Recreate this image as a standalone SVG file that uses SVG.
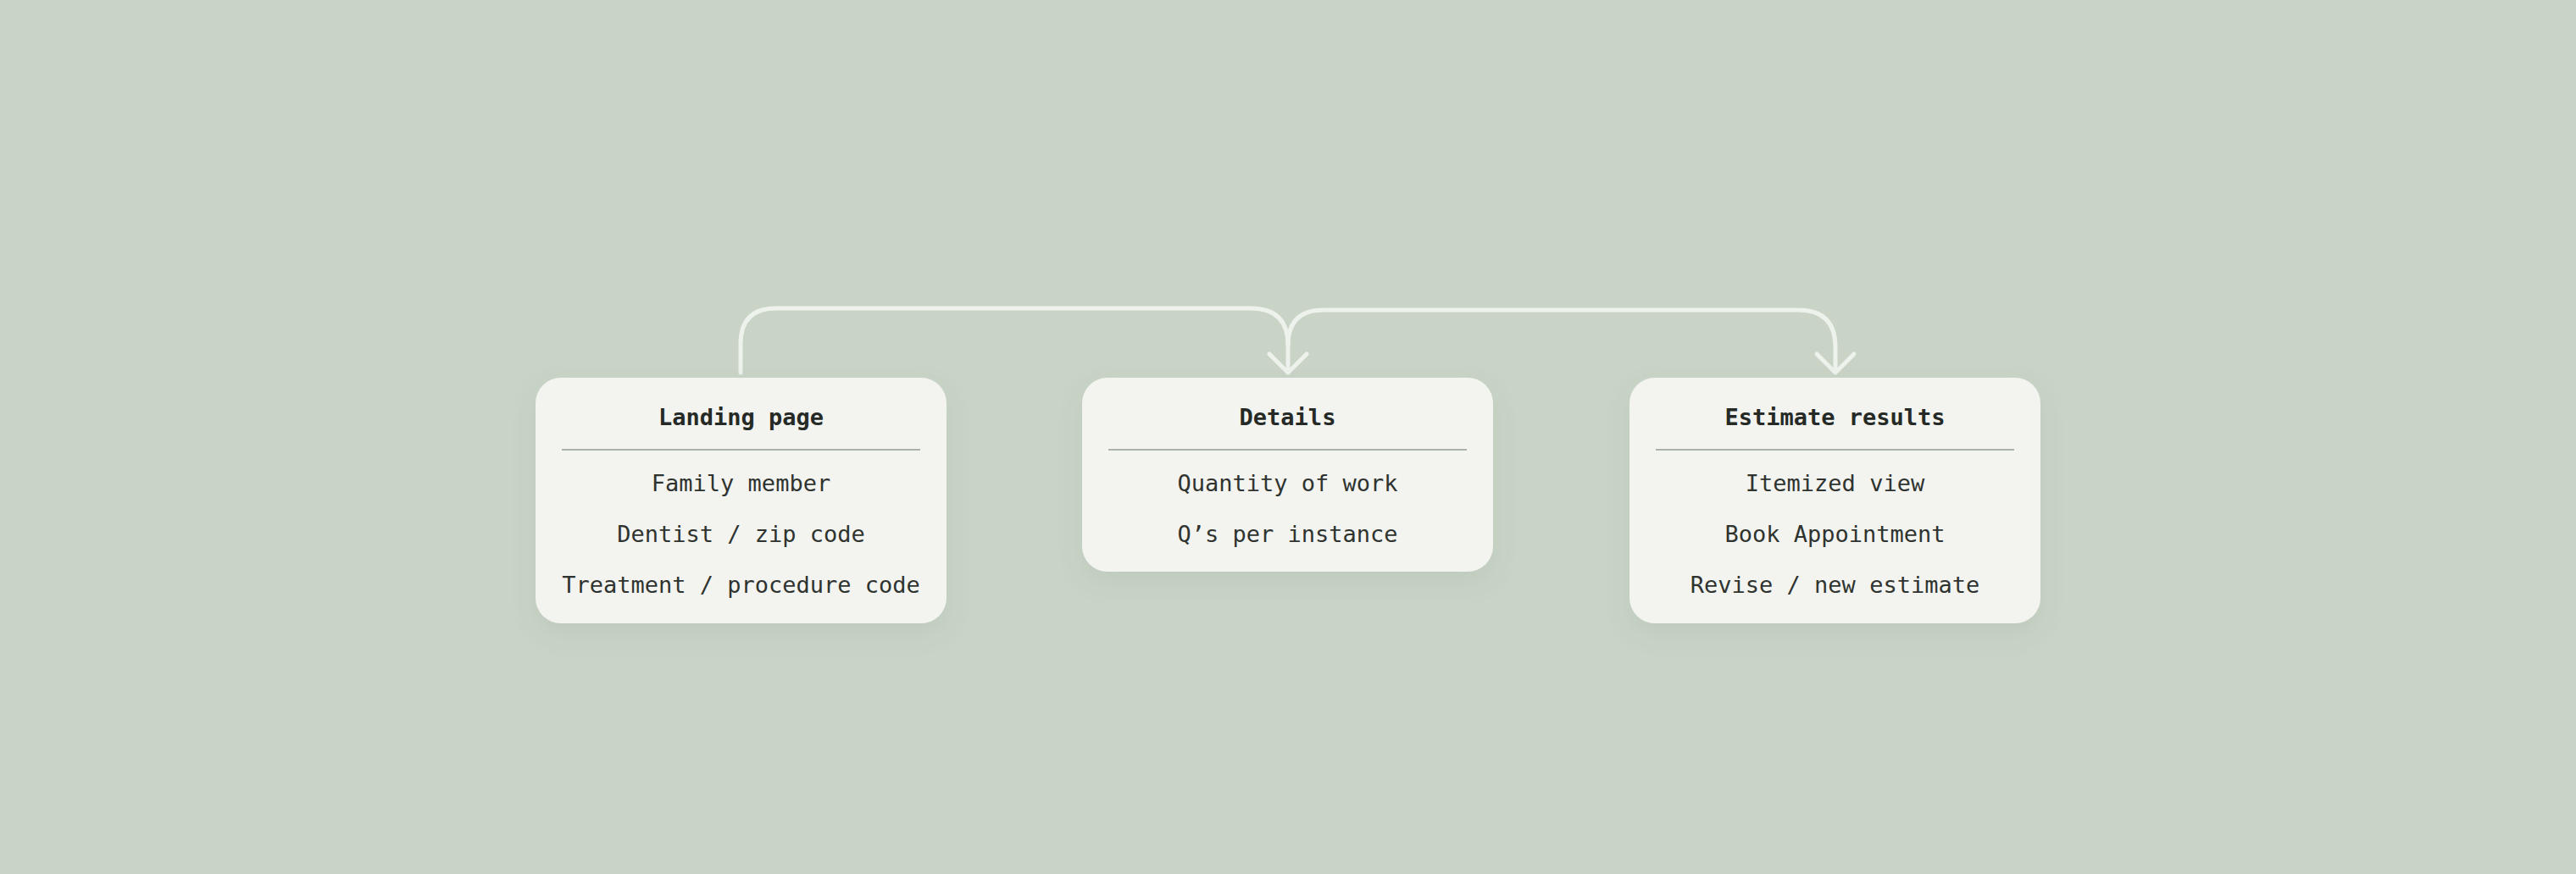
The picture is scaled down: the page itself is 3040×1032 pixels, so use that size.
<svg xmlns="http://www.w3.org/2000/svg" width="3040" height="1032" viewBox="0 0 3040 1032">
<defs>
<filter id="sh" x="-20%" y="-20%" width="140%" height="150%">
<feDropShadow dx="0" dy="12" stdDeviation="14" flood-color="#5a6b58" flood-opacity="0.10"/>
</filter>
<style>
.box{fill:#f3f4f0;filter:url(#sh)}
.div{stroke:#a9b3a8;stroke-width:2}
.t{font-family:"DejaVu Sans Mono","Liberation Mono",monospace;font-size:27px;fill:#2f332f;text-anchor:middle}
.h{font-weight:bold;fill:#262a26}
.c{fill:none;stroke:#eef2ec;stroke-width:5;stroke-linecap:round;stroke-linejoin:round}
</style>
</defs>
<rect width="3040" height="1032" fill="#c9d4c7"/>
<g id="connectors">
<path class="c" d="M874 440 V406 Q874 364 916 364 H1476 Q1520 364 1520 408 V439"/>
<path class="c" d="M1498 418 L1520 440 L1542 418"/>
<path class="c" d="M1520 408 Q1520 366 1562 366 H2122 Q2166 366 2166 410 V439"/>
<path class="c" d="M2144 418 L2166 440 L2188 418"/>
</g>
<g id="landing">
<rect class="box" x="632" y="446" width="485" height="290" rx="30"/>
<text class="t h" x="874.5" y="502">Landing page</text>
<line class="div" x1="663" y1="531" x2="1086" y2="531"/>
<text class="t" x="874.5" y="580">Family member</text>
<text class="t" x="874.5" y="640">Dentist / zip code</text>
<text class="t" x="874.5" y="700">Treatment / procedure code</text>
</g>
<g id="details">
<rect class="box" x="1277" y="446" width="485" height="229" rx="30"/>
<text class="t h" x="1519.5" y="502">Details</text>
<line class="div" x1="1308" y1="531" x2="1731" y2="531"/>
<text class="t" x="1519.5" y="580">Quantity of work</text>
<text class="t" x="1519.5" y="640">Q’s per instance</text>
</g>
<g id="estimate">
<rect class="box" x="1923" y="446" width="485" height="290" rx="30"/>
<text class="t h" x="2165.5" y="502">Estimate results</text>
<line class="div" x1="1954" y1="531" x2="2377" y2="531"/>
<text class="t" x="2165.5" y="580">Itemized view</text>
<text class="t" x="2165.5" y="640">Book Appointment</text>
<text class="t" x="2165.5" y="700">Revise / new estimate</text>
</g>
</svg>
